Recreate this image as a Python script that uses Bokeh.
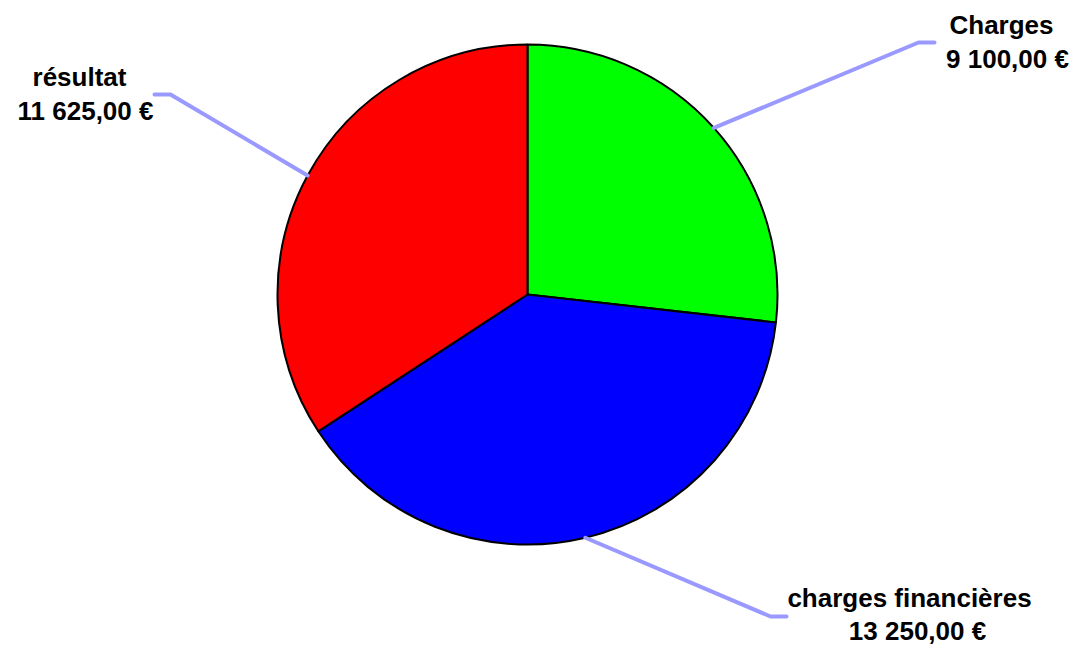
import math
from bokeh.plotting import figure
from bokeh.models import Range1d, ColumnDataSource
from bokeh.core.properties import value
from bokeh.embed import file_html
from bokeh.resources import INLINE

# ---- data ----
categories = ["Charges", "charges financières", "résultat"]
values = [9100.00, 13250.00, 11625.00]
value_labels = ["9 100,00 €", "13 250,00 €", "11 625,00 €"]
colors = ["#00ff00", "#0000ff", "#ff0000"]

# ---- layout (page pixel coordinates; y measured downward) ----
W, H = 1077, 646
CX, CY, R = 527, 294, 250
elbows = [(918, 42), (770, 616), (170, 94)]
elbow_ends = [(934, 42), (786, 616), (154, 94)]
name_pos = [(1001, 24), (909, 597), (79, 76)]
val_pos = [(1007, 58), (917, 630), (85, 110)]

p = figure(width=W, height=H, output_backend="svg", toolbar_location=None,
           x_range=Range1d(0, W), y_range=Range1d(-H, 0),
           min_border=0, outline_line_color=None)
p.axis.visible = False
p.grid.visible = False
p.background_fill_color = "white"

total = sum(values)
starts, ends, mids = [], [], []
a = math.pi / 2
for v in values:
    sweep = v / total * 2 * math.pi
    starts.append(a)
    ends.append(a - sweep)
    mids.append(a - sweep / 2)
    a -= sweep

src = ColumnDataSource(dict(start=starts, end=ends, color=colors))
p.wedge(x=CX, y=-CY, radius=R, radius_units="data", start_angle="start", end_angle="end",
        direction="clock", fill_color="color", line_color="black", line_width=2, source=src)

# leader lines
for m, (ex, ey), (fx, fy) in zip(mids, elbows, elbow_ends):
    sx = CX + R * math.cos(m)
    sy = -CY + R * math.sin(m)
    p.line([sx, ex, fx], [sy, -ey, -fy], line_color="#9999ff", line_width=4,
           line_cap="round", line_join="round")

font = value("Liberation Sans")
p.text(x=[q[0] for q in name_pos], y=[-q[1] for q in name_pos], text=categories,
       text_align="center", text_baseline="alphabetic", text_font=font,
       text_font_style="bold", text_font_size="26px", text_color="black")
p.text(x=[q[0] for q in val_pos], y=[-q[1] for q in val_pos], text=value_labels,
       text_align="center", text_baseline="alphabetic", text_font=font,
       text_font_style="bold", text_font_size="26px", text_color="black")

open("out.html", "w").write(file_html(p, INLINE))
